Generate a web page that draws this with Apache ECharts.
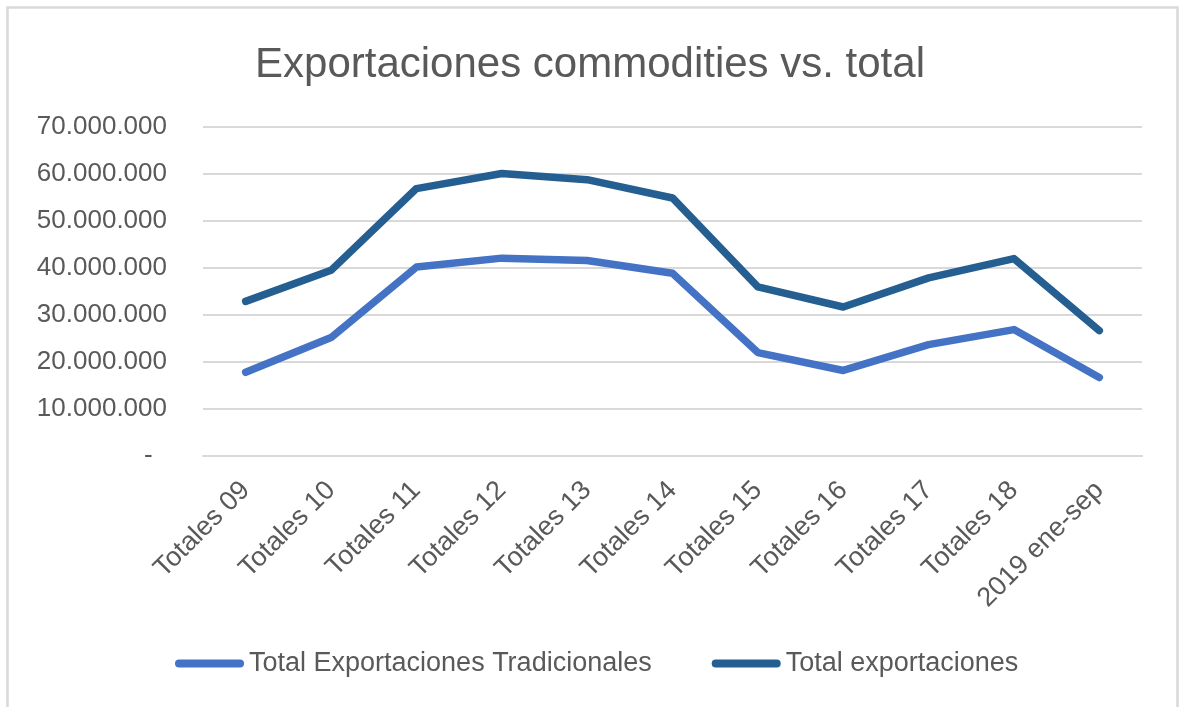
<!DOCTYPE html>
<html>
<head>
<meta charset="utf-8">
<script src="https://cdn.jsdelivr.net/npm/echarts@6/dist/echarts.min.js"></script>
<style>
  html, body { margin: 0; padding: 0; background: #ffffff; }
  #chart { width: 1180px; height: 707px; }
</style>
</head>
<body>
<div id="chart"></div>
<script>
// Period labels on the category axis
const periods = ['Totales 09', 'Totales 10', 'Totales 11', 'Totales 12', 'Totales 13',
  'Totales 14', 'Totales 15', 'Totales 16', 'Totales 17', 'Totales 18', '2019 ene-sep'];

// Traditional (commodity) exports
const tradicionales = [17800000, 25200000, 40200000, 42100000, 41600000,
  38900000, 22000000, 18200000, 23700000, 26900000, 16700000];

// Total exports
const totales = [32900000, 39500000, 56900000, 60100000, 58800000,
  54900000, 36000000, 31700000, 37900000, 42000000, 26700000];

const seriesNames = ['Total Exportaciones Tradicionales', 'Total exportaciones'];

const FONT = '"Liberation Sans", Arial, sans-serif';
const TEXT = '#595959';
const GRID = '#d9d9d9';

// pill-shaped legend marker
const PILL = 'path://M4,0 L65,0 A4,4 0 0 1 65,8 L4,8 A4,4 0 0 1 4,0 Z';

// 70000000 -> "70.000.000", zero shown as a dash
function fmt(v) {
  if (v === 0) return '-  ';
  return String(Math.round(v)).replace(/\B(?=(\d{3})+(?!\d))/g, '.');
}

const chart = echarts.init(document.getElementById('chart'), null, { renderer: 'canvas' });

chart.setOption({
  backgroundColor: '#ffffff',
  animation: false,
  graphic: [{
    type: 'rect',
    shape: { x: 7.5, y: 7.5, width: 1170, height: 720 },
    style: { fill: 'none', stroke: GRID, lineWidth: 2.5 },
    silent: true
  }],
  title: {
    text: 'Exportaciones commodities vs. total',
    left: 'center',
    top: 39,
    textStyle: { fontFamily: FONT, fontSize: 42, fontWeight: 'normal', color: TEXT }
  },
  legend: {
    left: 170,
    top: 645,
    itemWidth: 69,
    itemHeight: 8,
    itemGap: 60,
    data: seriesNames.map(n => ({ name: n, icon: PILL })),
    textStyle: { fontFamily: FONT, fontSize: 27, color: TEXT }
  },
  grid: { left: 203, right: 38, top: 127, bottom: 251, containLabel: false },
  xAxis: {
    type: 'category',
    data: periods,
    boundaryGap: true,
    axisLine: { show: true, lineStyle: { color: GRID, width: 2 } },
    axisTick: { show: false },
    axisLabel: {
      rotate: 45,
      margin: 30,
      interval: 0,
      fontFamily: FONT,
      fontSize: 27,
      color: TEXT
    }
  },
  yAxis: {
    type: 'value',
    min: 0,
    max: 70000000,
    interval: 10000000,
    axisLine: { show: false },
    axisTick: { show: false },
    splitLine: { lineStyle: { color: GRID, width: 2 } },
    axisLabel: {
      margin: 36,
      fontFamily: FONT,
      fontSize: 26,
      color: TEXT,
      formatter: fmt
    }
  },
  series: [
    {
      name: seriesNames[0],
      type: 'line',
      data: tradicionales,
      symbol: 'none',
      lineStyle: { color: '#4472c4', width: 7.5, cap: 'round', join: 'round' },
      itemStyle: { color: '#4472c4' }
    },
    {
      name: seriesNames[1],
      type: 'line',
      data: totales,
      symbol: 'none',
      lineStyle: { color: '#255e91', width: 7.5, cap: 'round', join: 'round' },
      itemStyle: { color: '#255e91' }
    }
  ]
});
</script>
</body>
</html>
